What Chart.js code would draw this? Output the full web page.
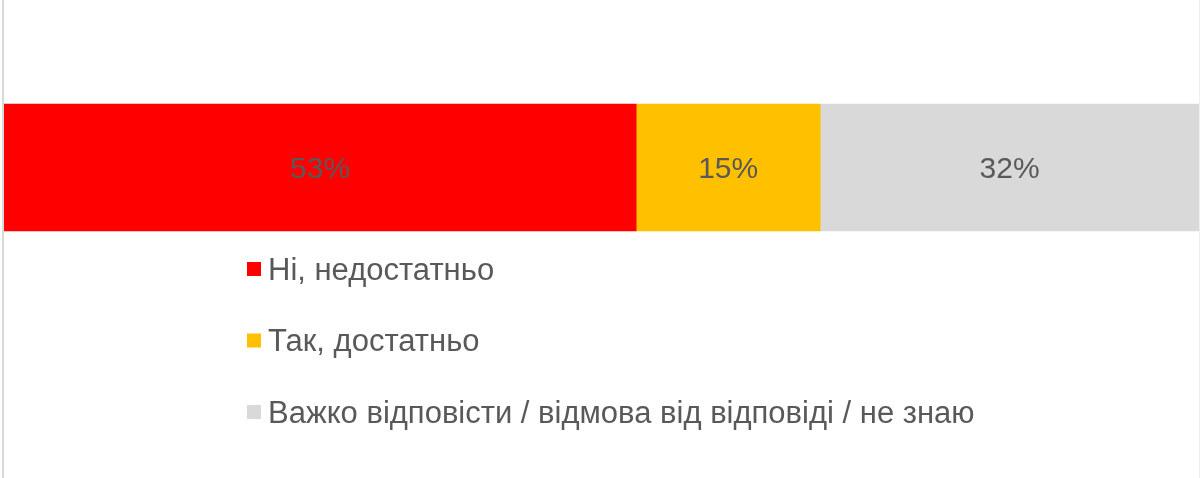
<!DOCTYPE html>
<html>
<head>
<meta charset="utf-8">
<script src="https://cdn.jsdelivr.net/npm/chart.js@4.4.0/dist/chart.umd.min.js"></script>
<style>
  html, body { margin: 0; padding: 0; background: #ffffff; }
  #wrap { width: 1200px; height: 478px; position: relative; }
</style>
</head>
<body>
<div id="wrap"><canvas id="c" width="1200" height="478"></canvas></div>
<script>
const categories = [''];
const seriesNames = ['Ні, недостатньо', 'Так, достатньо', 'Важко відповісти / відмова від відповіді / не знаю'];
const seriesValues = [[52.9], [15.4], [31.7]];
const seriesLabels = ['53%', '15%', '32%'];
const seriesColors = ['#FF0000', '#FFC000', '#D9D9D9'];

const textColor = '#595959';
const fontFamily = '"Liberation Sans", Arial, sans-serif';

const frameLines = {
  id: 'frameLines',
  beforeDatasetsDraw(chart) {
    const ctx = chart.ctx;
    ctx.save();
    ctx.strokeStyle = '#D9D9D9';
    ctx.lineWidth = 2;
    ctx.beginPath();
    ctx.moveTo(3, 0);
    ctx.lineTo(3, chart.height);
    ctx.stroke();
    ctx.strokeStyle = '#EEEEEE';
    ctx.lineWidth = 1;
    ctx.beginPath();
    ctx.moveTo(1199.5, 0);
    ctx.lineTo(1199.5, chart.height);
    ctx.stroke();
    ctx.restore();
  }
};

const barLabels = {
  id: 'barLabels',
  afterDatasetsDraw(chart) {
    const ctx = chart.ctx;
    ctx.save();
    ctx.font = '30px ' + fontFamily;
    ctx.fillStyle = textColor;
    ctx.textAlign = 'center';
    ctx.textBaseline = 'middle';
    chart.data.datasets.forEach((ds, i) => {
      const meta = chart.getDatasetMeta(i);
      meta.data.forEach((el) => {
        const p = el.getProps(['x', 'y', 'base'], true);
        ctx.fillText(seriesLabels[i], (p.x + p.base) / 2, p.y + 2);
      });
    });
    ctx.restore();
  }
};

const vertLegend = {
  id: 'vertLegend',
  afterDraw(chart) {
    const ctx = chart.ctx;
    ctx.save();
    ctx.font = '31px ' + fontFamily;
    ctx.textBaseline = 'middle';
    ctx.textAlign = 'left';
    const startY = 270;
    const step = 71.5;
    chart.data.datasets.forEach((ds, i) => {
      const cy = startY + i * step;
      ctx.fillStyle = ds.backgroundColor;
      ctx.fillRect(247, cy - 8, 14, 14);
      ctx.fillStyle = textColor;
      ctx.fillText(ds.label, 268, cy + 1);
    });
    ctx.restore();
  }
};

new Chart(document.getElementById('c'), {
  type: 'bar',
  data: {
    labels: categories,
    datasets: seriesNames.map((name, i) => ({
      label: name,
      data: seriesValues[i],
      backgroundColor: seriesColors[i],
      borderWidth: 0,
      barThickness: 127
    }))
  },
  options: {
    indexAxis: 'y',
    responsive: false,
    animation: false,
    layout: { padding: { left: 4, right: 1, top: 0, bottom: 143 } },
    scales: {
      x: { stacked: true, min: 0, max: 100, display: false },
      y: { stacked: true, display: false }
    },
    plugins: {
      legend: { display: false },
      tooltip: { enabled: false }
    }
  },
  plugins: [frameLines, barLabels, vertLegend]
});
</script>
</body>
</html>
